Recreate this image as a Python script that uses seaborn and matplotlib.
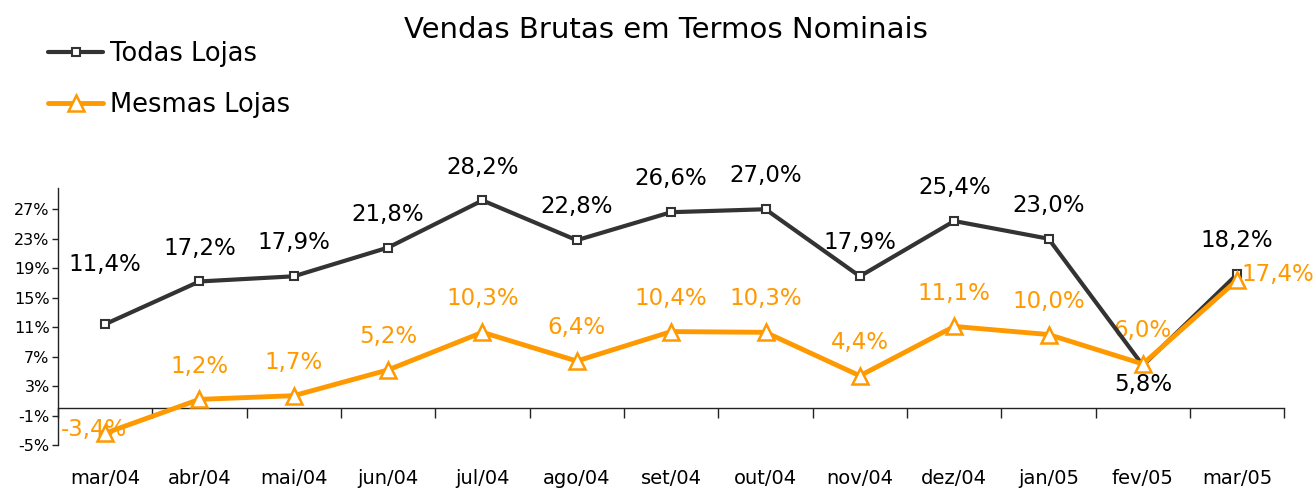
import matplotlib
matplotlib.use("Agg")
import matplotlib.pyplot as plt
import seaborn as sns
import pandas as pd
import numpy as np
from matplotlib.lines import Line2D

months = ["mar/04", "abr/04", "mai/04", "jun/04", "jul/04", "ago/04", "set/04",
          "out/04", "nov/04", "dez/04", "jan/05", "fev/05", "mar/05"]
todas = [11.4, 17.2, 17.9, 21.8, 28.2, 22.8, 26.6, 27.0, 17.9, 25.4, 23.0, 5.8, 18.2]
mesmas = [-3.4, 1.2, 1.7, 5.2, 10.3, 6.4, 10.4, 10.3, 4.4, 11.1, 10.0, 6.0, 17.4]
series_names = ["Todas Lojas", "Mesmas Lojas"]
yticks = [-5, -1, 3, 7, 11, 15, 19, 23, 27]

sns.set_style("white")
plt.rcParams['font.family'] = ['DejaVu Sans']
plt.rcParams['text.color'] = 'black'
plt.rcParams['xtick.color'] = 'black'
plt.rcParams['ytick.color'] = 'black'

df = pd.DataFrame({
    "mes": months * 2,
    "valor": todas + mesmas,
    "serie": [series_names[0]] * len(months) + [series_names[1]] * len(months),
})

BLACK = "#333333"
ORANGE = "#FF9900"

fig = plt.figure(figsize=(13.16, 4.88), dpi=100)
ax = fig.add_axes([0.044, 0.088, 0.932, 0.527])

sns.lineplot(data=df, x="mes", y="valor", hue="serie", style="serie",
             palette={series_names[0]: BLACK, series_names[1]: ORANGE},
             markers={series_names[0]: "s", series_names[1]: "^"},
             dashes=False, sort=False, ax=ax, legend=False)

lines = ax.get_lines()
lines[0].set_linewidth(3)
lines[0].set_markersize(6)
lines[0].set_markerfacecolor("white")
lines[0].set_markeredgecolor(BLACK)
lines[0].set_markeredgewidth(1.5)
lines[0].set_zorder(3)
lines[1].set_linewidth(3.5)
lines[1].set_markersize(11)
lines[1].set_markerfacecolor("white")
lines[1].set_markeredgecolor(ORANGE)
lines[1].set_markeredgewidth(1.8)
lines[1].set_zorder(4)

ax.set_xlim(-0.5, len(months) - 0.5)
ax.set_ylim(-5, 29.9)
ax.set_yticks(yticks)
ax.set_yticklabels([f"{v}%" for v in yticks], fontsize=11.5, color="black")
ax.set_xlabel("")
ax.set_ylabel("")

# x axis spine at zero with boundary ticks
ax.spines["bottom"].set_position(("data", 0))
ax.spines["top"].set_visible(False)
ax.spines["right"].set_visible(False)
for s in ["bottom", "left"]:
    ax.spines[s].set_color("#222222")
    ax.spines[s].set_linewidth(1.0)
ax.set_xticks(np.arange(len(months)))
ax.set_xticklabels(months, fontsize=14, color="black")
ax.set_xticks(np.arange(len(months) + 1) - 0.5, minor=True)
ax.tick_params(axis="x", which="major", length=0, pad=44, bottom=True)
ax.tick_params(axis="x", which="minor", length=7, width=1, color="#222222",
               direction="out", bottom=True)
ax.tick_params(axis="y", length=4, width=1, color="#222222", direction="out",
               pad=2, left=True)

# data labels
LBL = 16.5
for i, v in enumerate(todas):
    txt = f"{v:.1f}%".replace(".", ",")
    if i == 11:
        off = (0, -14)
    elif i == 0:
        off = (0, 43)
    else:
        off = (0, 24)
    ax.annotate(txt, (i, v), xytext=off, textcoords="offset points",
                ha="center", va="center", fontsize=LBL, color="black")
for i, v in enumerate(mesmas):
    txt = f"{v:.1f}%".replace(".", ",")
    if i == 0:
        off = (-8, 3)
    elif i == len(mesmas) - 1:
        off = (29, 4)
    else:
        off = (0, 24)
    ax.annotate(txt, (i, v), xytext=off, textcoords="offset points",
                ha="center", va="center", fontsize=LBL, color=ORANGE, zorder=2)

fig.text(0.506, 0.938, "Vendas Brutas em Termos Nominais", ha="center", va="center",
         fontsize=21, color="black")

handles = [
    Line2D([], [], color=BLACK, lw=3, marker="s", markersize=6,
           markerfacecolor="white", markeredgecolor=BLACK, markeredgewidth=1.5),
    Line2D([], [], color=ORANGE, lw=3.5, marker="^", markersize=11,
           markerfacecolor="white", markeredgecolor=ORANGE, markeredgewidth=1.8),
]
leg = fig.legend(handles, series_names, loc="upper left", bbox_to_anchor=(0.0365, 0.915),
                 frameon=False, fontsize=18.5, handlelength=2.14, handletextpad=0.27,
                 labelspacing=0.95, borderaxespad=0, borderpad=0)
for t in leg.get_texts():
    t.set_color("black")

fig.savefig("out.png", dpi=100)
